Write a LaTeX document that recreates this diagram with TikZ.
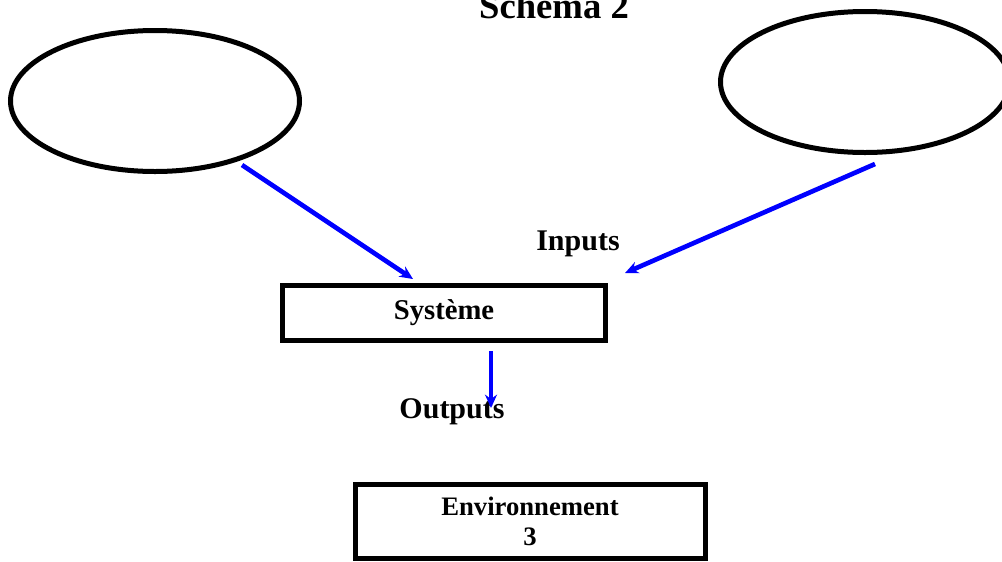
\documentclass[tikz,border=0pt]{standalone}
\usepackage{fontspec}
\setmainfont{Liberation Serif}
\usetikzlibrary{shapes.geometric,arrows.meta}
\begin{document}
\begin{tikzpicture}[x=0.75pt,y=-0.75pt,
  bubble/.style={draw=black,line width=3.75pt,ellipse,inner sep=0pt,
                 minimum width=216.75pt,minimum height=105.75pt},
  frame/.style={draw=black,rectangle,inner sep=0pt,align=center,font=\bfseries},
  flow/.style={draw=blue,line width=3.5pt,-{Stealth[length=10pt,width=9pt]}},
  word/.style={inner sep=0pt,anchor=base}]
\useasboundingbox (0,0) rectangle (1002,561);

% title
\node[word,font=\fontsize{27.5}{30}\selectfont\bfseries] (title) at (554,18) {Schema 2};

% the two surrounding elements
\node[bubble] (left) at (155,101) {};
\node[bubble] (right) at (865,82) {};

% the system and its environment
\node[frame,line width=4pt,minimum width=242pt,minimum height=41pt,
      font=\fontsize{21.5}{24}\selectfont\bfseries] (sys) at (444,313) {Syst\`eme};
\node[frame,line width=3.75pt,minimum width=262.5pt,minimum height=55pt,
      font=\fontsize{20}{22.5}\selectfont\bfseries] (env) at (530,521.5) {Environnement\\3};

% labels
\node[word,font=\fontsize{22.5}{25}\selectfont\bfseries] (inp) at (578,250) {Inputs};
\node[word,font=\fontsize{22.5}{25}\selectfont\bfseries] (outp) at (452,418) {Outputs};

% arrow end points
\coordinate (a1) at (242,165);
\coordinate (b1) at (413,279);
\coordinate (a2) at (875,164);
\coordinate (b2) at (625,273);
\coordinate (a3) at (491,351);
\coordinate (b3) at (491,408);

\draw[flow] (a1) -- (b1);
\draw[flow] (a2) -- (b2);
\draw[flow] (a3) -- (b3);
\end{tikzpicture}
\end{document}
